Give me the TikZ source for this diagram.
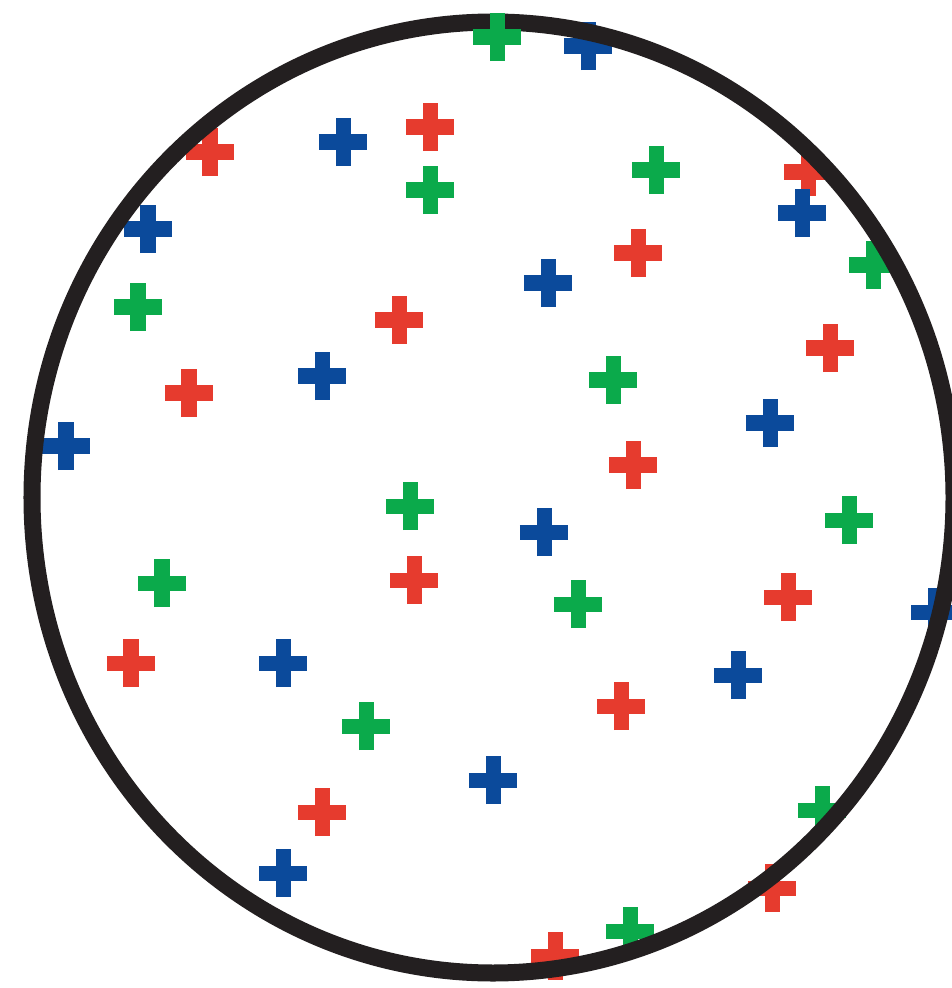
\documentclass[tikz,border=0pt]{standalone}
\usepackage{xcolor}
\usepackage{tikz}

\definecolor{crossred}{HTML}{E63B2E}
\definecolor{crossblue}{HTML}{0B4A9B}
\definecolor{crossgreen}{HTML}{0BAA4B}
\definecolor{rim}{HTML}{231F20}

\begin{document}
\begin{tikzpicture}[
  x=0.01cm, y=-0.01cm,
  cross/.pic={\draw[line width=1.5mm, pic actions] (-2.4mm,0) -- (2.4mm,0) (0,-2.4mm) -- (0,2.4mm);},
  rimline/.style={draw=rim, line width=1.7mm},
]
\useasboundingbox (0,0) rectangle (952,988);

% ===== red crosses =====
\foreach \x/\y in {210/152, 430/127, 808/172, 638/253, 399/320, 830/348, 189/393,
  633/465, 414/580, 788/597, 131/663, 621/706, 322/812, 772/888, 555/956}
  \pic[color=crossred] at (\x,\y) {cross};

% ===== blue crosses =====
\foreach \x/\y in {588/46, 343/142, 802/213, 148/229, 548/283, 322/376, 770/423,
  66/446, 544/532, 935/612, 283/663, 738/675, 493/780, 283/873}
  \pic[color=crossblue] at (\x,\y) {cross};

% ===== green crosses =====
\foreach \x/\y in {430/190, 656/170, 873/265, 138/307, 613/380, 410/506, 849/520,
  162/583, 578/604, 366/726, 822/810, 630/931}
  \pic[color=crossgreen] at (\x,\y) {cross};

% ===== outline =====
\path[rimline] (493,497.5) ellipse [x radius=461, y radius=475.5];

% top cross sits over the outline
\pic[color=crossgreen] at (497,37) {cross};

\end{tikzpicture}
\end{document}
